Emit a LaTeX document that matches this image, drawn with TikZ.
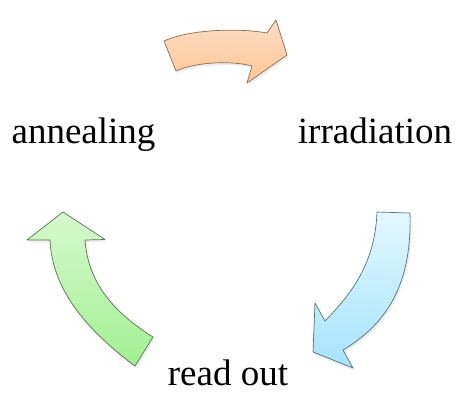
\documentclass[tikz,border=0pt]{standalone}
\usepackage{fontspec}
\setmainfont{Liberation Serif}
\usepackage{tikz}
\usetikzlibrary{positioning, shadows}
\definecolor{peachTop}{HTML}{FCDCC4}
\definecolor{peachBot}{HTML}{FFC796}
\definecolor{skyTop}{HTML}{E2F7FF}
\definecolor{skyBot}{HTML}{A6E4FB}
\definecolor{mintTop}{HTML}{D6F8CE}
\definecolor{mintBot}{HTML}{A2F092}

\begin{document}
\begin{tikzpicture}[x=1pt, y=-1pt,
    phase/.style={anchor=base, inner sep=0pt, text depth=0pt, font=\fontsize{37}{44}\selectfont},
    blockarr/.style={line width=0.7pt, line join=round,
      drop shadow={opacity=0.15, shadow xshift=1.5pt, shadow yshift=-2.5pt}}]
    \useasboundingbox (0,0) rectangle (457,392);
    \node[phase] (anneal) at (83.5,143) {annealing};
    \node[phase] (irrad) at (375,143) {irradiation};
    \node[phase] (readout) at (228,385) {read out};
    % orange: annealing -> irradiation
    \path[blockarr, draw=black!45!peachBot, top color=peachTop, bottom color=peachBot]
      (164,41) .. controls (190,29) and (240,28) .. (267,33)
      -- (276,20) -- (287,55) -- (247,83) -- (252,66)
      .. controls (235,61) and (198,61) .. (176,71) -- cycle;
    % blue: irradiation -> read out
    \path[blockarr, draw=black!50!skyBot, top color=skyTop, bottom color=skyBot]
      (377,212) -- (410,213)
      .. controls (412,280) and (390,322) .. (343,350)
      -- (353,368) -- (313,352) -- (315,303) -- (325,321)
      .. controls (350,295) and (375,265) .. cycle;
    % green: read out -> annealing
    \path[blockarr, draw=black!50!mintBot, top color=mintTop, bottom color=mintBot]
      (135,366) .. controls (80,325) and (52,285) .. (50,240)
      -- (27,240) -- (63,212) -- (105,239.5) -- (85,240)
      .. controls (88,280) and (110,310) .. (153,337) -- cycle;
  \end{tikzpicture}
\end{document}
